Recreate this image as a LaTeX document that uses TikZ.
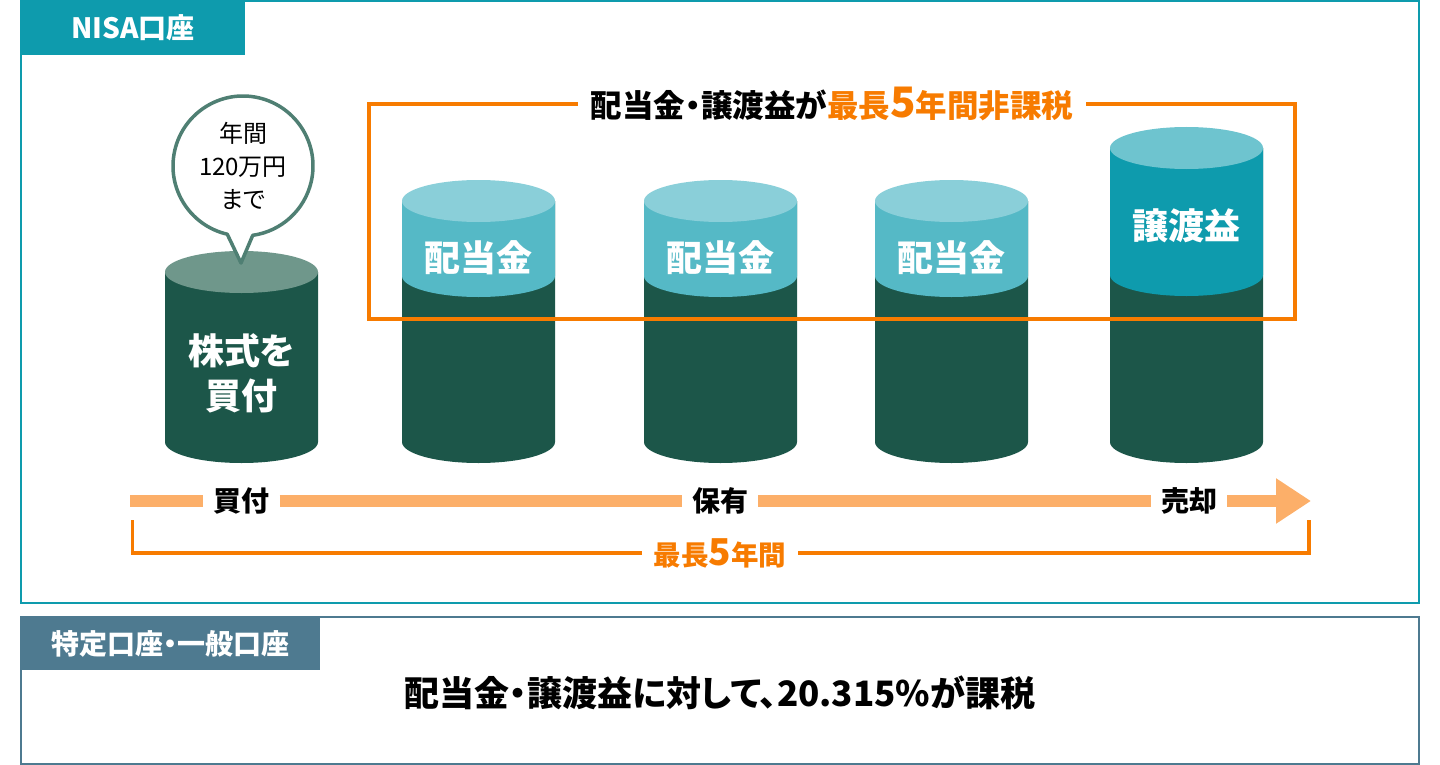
\documentclass[tikz,border=0pt]{standalone}
\usepackage{fontspec}
\setmainfont{Noto Sans CJK JP}[RawFeature={+palt}]
\usepackage{xcolor}
\usetikzlibrary{positioning, arrows.meta}
\definecolor{nisateal}{HTML}{0E9BAD}
\definecolor{slateblue}{HTML}{4E7A90}
\definecolor{drumdark}{HTML}{1C5649}
\definecolor{drumgray}{HTML}{6F978B}
\definecolor{bubbleline}{HTML}{4F7F73}
\definecolor{divband}{HTML}{55B9C6}
\definecolor{divtop}{HTML}{8ACFD9}
\definecolor{gaintop}{HTML}{6EC4CF}
\definecolor{accent}{HTML}{F77B00}
\definecolor{flowpeach}{HTML}{FCAF69}

% drum: center x, top y, band y, band colour, top colour
\newcommand{\drum}[5]{%
  \fill[drumdark] (#1-76.5,#2) -- (#1-76.5,442) arc[start angle=180, end angle=360, x radius=76.5pt, y radius=21pt] -- (#1+76.5,#2) -- cycle;
  \fill[#4] (#1-76.5,#2) -- (#1-76.5,#3) arc[start angle=180, end angle=360, x radius=76.5pt, y radius=21pt] -- (#1+76.5,#2) -- cycle;
  \fill[#5] (#1,#2) ellipse[x radius=76.5pt, y radius=21pt];}
\newcommand{\bigfive}{{\fontsize{42}{44}\selectfont 5}}

\begin{document}
\begin{tikzpicture}[x=1pt, y=-1pt,
        every node/.style={inner sep=0pt},
        tab/.style={fill=#1, text=white, anchor=north west, font=\fontsize{28}{32}\selectfont\bfseries},
        drumlbl/.style={text=white, align=center, font=\fontsize{36}{45}\selectfont\bfseries},
        flowlbl/.style={inner xsep=10pt, font=\fontsize{28}{32}\selectfont\bfseries},
        flow/.style={draw=flowpeach, line width=11.5pt},
        orangeline/.style={draw=accent, line width=3.5pt},
        bubble/.style={draw=bubbleline, fill=white, line width=3.5pt, line join=round}
    ]
    \useasboundingbox (0,0) rectangle (1440,765);

    % NISA account
    \draw[nisateal, line width=2pt] (21,1) rectangle (1419,603);
    \node[tab=nisateal, minimum width=224, minimum height=55] (nisatab) at (21,0) {NISA口座};

    % drums
    \drum{241.5}{272}{272}{drumdark}{drumgray}
    \drum{478.5}{201}{276}{divband}{divtop}
    \drum{720.5}{201}{276}{divband}{divtop}
    \drum{951.5}{201}{276}{divband}{divtop}
    \drum{1186.5}{148}{275}{nisateal}{gaintop}

    \node[drumlbl] (buystock) at (241.5,373) {株式を\\買付};
    \node[drumlbl] (div1) at (478.5,258) {配当金};
    \node[drumlbl] (div2) at (720.5,258) {配当金};
    \node[drumlbl] (div3) at (951.5,258) {配当金};
    \node[drumlbl] (gain) at (1186.5,226) {譲渡益};

    % speech bubble
    \coordinate (bubc) at (243,166);
    \coordinate (tip) at (241,263);
    \path (bubc) ++(257:70pt) coordinate (tailL) (bubc) ++(278:70pt) coordinate (tailR);
    \filldraw[bubble] (tailR) -- (tip) -- (tailL) arc[start angle=257, end angle=-82, radius=70pt] -- cycle;
    \node[align=center, font=\fontsize{24}{33}\selectfont] (limit) at (bubc) {年間\\120万円\\まで};

    % tax-free frame
    \node[inner xsep=13pt, font=\fontsize{31.5}{36}\selectfont\bfseries] (ttl) at (832,104)
        {配当金・譲渡益が\textcolor{accent}{最長\bigfive 年間非課税}};
    \coordinate (frTL) at (369,104);
    \coordinate (frBR) at (1295,319);
    \draw[orangeline] (ttl) -- (frTL) |- (frBR) |- (ttl);

    % flow
    \coordinate (flowstart) at (130,501);
    \node[flowlbl] (buy) at (241.5,501) {買付};
    \node[flowlbl] (hold) at (720,501) {保有};
    \node[flowlbl] (sell) at (1189,501) {売却};
    \coordinate (flowend) at (1311,501);
    \draw[flow] (flowstart) -- (buy);
    \draw[flow] (buy) -- (hold);
    \draw[flow] (hold) -- (sell);
    \draw[flow, -{Triangle[length=35pt, width=43pt]}] (sell) -- (flowend);

    % span bracket
    \coordinate (brL) at (132.5,520);
    \coordinate (brR) at (1309,520);
    \node[inner xsep=12pt, text=accent, font=\fontsize{27.5}{32}\selectfont\bfseries] (span) at (720,553)
        {最長{\fontsize{37}{40}\selectfont 5}年間};
    \draw[orangeline] (span) -| (brL);
    \draw[orangeline] (span) -| (brR);

    % taxable account
    \draw[slateblue, line width=2pt] (21,617) rectangle (1419,764);
    \node[tab=slateblue, minimum width=299, minimum height=53] (taxtab) at (21,617) {特定口座・一般口座};
    \node[font=\fontsize{35}{40}\selectfont\bfseries] (taxnote) at (720,693) {配当金・譲渡益に対して、20.315\%が課税};

\end{tikzpicture}
\end{document}
